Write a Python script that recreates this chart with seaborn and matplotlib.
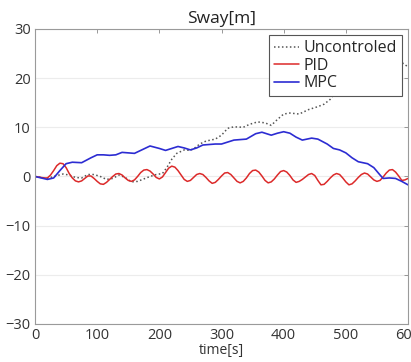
# -*- coding: utf-8 -*-
"""
Sway response: uncontrolled vs PID vs MPC
"""

import seaborn as sns
import matplotlib.pyplot as plt

# data
unc_t = [0, 10, 20, 30, 45, 55, 65, 75, 85, 95, 105, 115, 125, 135, 145, 155,
         165, 175, 185, 195, 205, 212, 220, 228, 240, 250, 258, 265, 275, 290,
         300, 310, 320, 335, 345, 358, 370, 380, 390, 400, 410, 425, 440, 455,
         465, 475, 485, 500, 520, 540, 560, 575, 585, 592, 600]
unc_y = [0.0, -0.2, -0.4, 0.0, 0.5, 0.3, -0.2, -0.3, 0.4, 0.4, 0.0, -0.6, -0.4,
         0.3, -0.2, -1.1, -1.0, -0.5, 0.0, 0.4, 0.6, 1.8, 3.5, 4.7, 5.4, 5.3,
         5.9, 6.6, 7.2, 7.6, 8.4, 9.8, 10.1, 10.0, 10.6, 11.1, 10.9, 10.4, 11.6,
         12.7, 12.9, 12.7, 13.6, 14.2, 14.7, 15.7, 17.5, 19.5, 21.5, 23.0, 24.0,
         24.6, 23.8, 23.0, 22.3]

pid_t = list(range(0, 605, 5))
pid_y = [0.0, -0.1, -0.2, -0.3, -0.3, 0.3, 1.2, 2.2, 2.7, 2.6,
         1.8, 0.6, -0.3, -0.9, -1.1, -0.9, -0.4, 0.1, 0.1, -0.4,
         -1.0, -1.5, -1.6, -1.2, -0.6, 0.0, 0.5, 0.6, 0.3, -0.3,
         -0.8, -1.0, -0.7, 0.0, 0.8, 1.3, 1.4, 1.1, 0.5, -0.2,
         -0.5, -0.1, 0.8, 1.7, 2.1, 1.9, 1.2, 0.3, -0.6, -1.0,
         -0.8, -0.2, 0.4, 0.6, 0.4, -0.2, -0.9, -1.4, -1.2, -0.6,
         0.1, 0.7, 0.8, 0.4, -0.3, -1.0, -1.3, -1.0, -0.3, 0.6,
         1.2, 1.3, 0.9, 0.1, -0.8, -1.3, -1.1, -0.5, 0.3, 1.0,
         1.2, 0.9, 0.2, -0.7, -1.2, -1.0, -0.6, -0.1, 0.4, 0.6,
         0.2, -0.8, -1.7, -1.6, -1.0, -0.3, 0.3, 0.6, 0.4, -0.3,
         -1.1, -1.7, -1.5, -0.9, -0.2, 0.4, 0.7, 0.5, -0.1, -0.7,
         -1.0, -0.8, -0.1, 0.7, 1.3, 1.4, 0.9, 0.1, -0.8, -0.7,
         -0.4]

mpc_t = [0, 10, 20, 30, 40, 50, 60, 75, 90, 100, 110, 120, 130, 140, 150, 160,
         175, 185, 200, 210, 220, 230, 240, 250, 260, 270, 290, 300, 320, 340,
         355, 365, 380, 390, 400, 410, 420, 430, 445, 455, 470, 480, 490, 500,
         510, 520, 535, 545, 555, 560, 570, 580, 590, 600]
mpc_y = [0.0, -0.3, -0.6, -0.3, 1.2, 2.6, 2.9, 2.8, 3.8, 4.4, 4.4, 4.3, 4.4,
         4.9, 4.8, 4.7, 5.6, 6.2, 5.7, 5.3, 5.7, 6.1, 5.8, 5.4, 5.8, 6.4, 6.6,
         6.6, 7.4, 7.6, 8.7, 9.0, 8.4, 8.8, 9.1, 8.8, 8.0, 7.4, 7.8, 7.6, 6.6,
         5.7, 5.4, 4.8, 3.8, 3.0, 2.6, 1.8, 0.3, -0.4, -0.3, -0.4, -1.0, -1.7]

x_ticks = [0, 100, 200, 300, 400, 500, 600]
y_ticks = [-30, -20, -10, 0, 10, 20, 30]

# set theme
sns.set_theme(style="white")
plt.rcParams['font.family'] = ['Open Sans', 'DejaVu Sans']

fig = plt.figure(figsize=(4.11, 3.62), dpi=100)
ax = fig.add_axes([0.0852, 0.105, 0.9075, 0.815])

sns.lineplot(x=unc_t, y=unc_y, ax=ax, color='#555555', lw=1.1,
             linestyle=(0, (1, 1.6)), label='Uncontroled')
sns.lineplot(x=pid_t, y=pid_y, ax=ax, color='#dc2a2a', lw=1.1, label='PID')
sns.lineplot(x=mpc_t, y=mpc_y, ax=ax, color='#2c2cd2', lw=1.2, label='MPC')

ax.set_xlim(0, 600)
ax.set_ylim(-30, 30)
ax.set_xticks(x_ticks)
ax.set_yticks(y_ticks)
ax.yaxis.grid(True, color='#ececec', lw=0.8)
ax.set_axisbelow(True)
ax.tick_params(direction='in', length=3, width=0.6, color='#888888',
               labelsize=10.5, labelcolor='#333333', top=True, right=True,
               pad=3)
for s in ax.spines.values():
    s.set_color('#9a9a9a')
    s.set_linewidth(0.8)

ax.set_title('Sway[m]', fontsize=12.5, color='#222222', pad=4)
ax.set_xlabel('time[s]', fontsize=10, color='#333333', labelpad=0)
ax.set_ylabel('')

leg = ax.legend(loc='upper right', fontsize=11.5, fancybox=False,
                framealpha=1, edgecolor='#555555', handlelength=1.6,
                handletextpad=0.25, borderpad=0.3, labelspacing=0.1,
                borderaxespad=0.4)
leg.get_frame().set_linewidth(0.8)

plt.savefig('out.png', dpi=100)
